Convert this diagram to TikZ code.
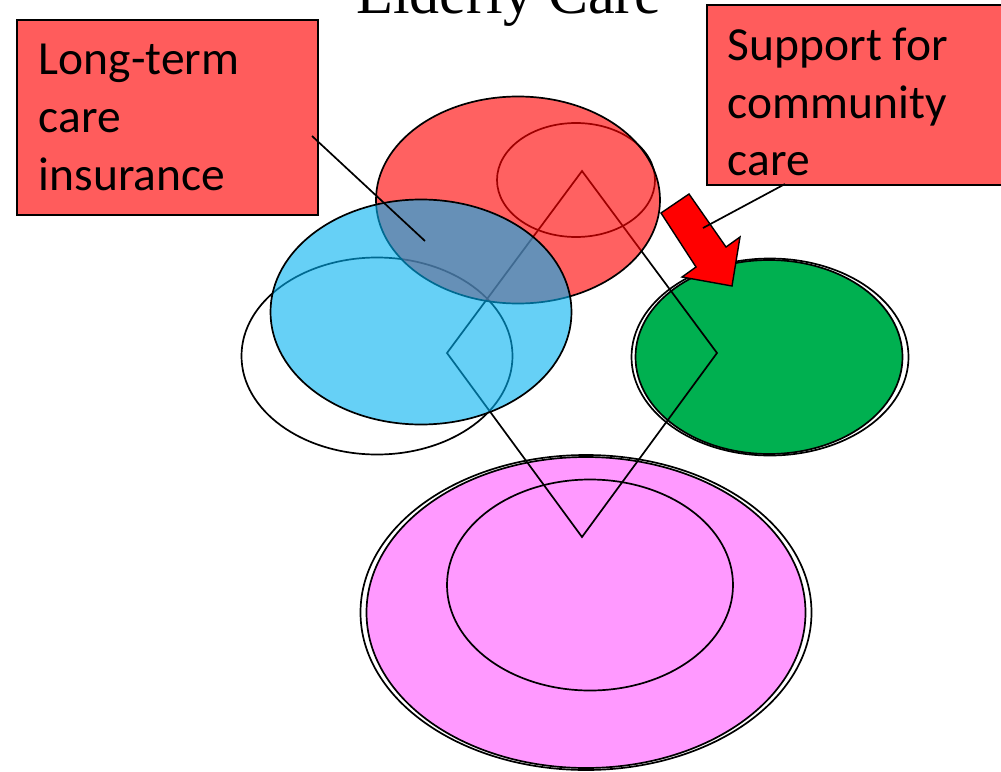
\documentclass[tikz,border=0pt]{standalone}
\usepackage{fontspec}
\setmainfont{Liberation Serif}
\newfontfamily\calib{Carlito}
\usetikzlibrary{shapes.geometric}
\definecolor{boxred}{RGB}{255,92,92}
\definecolor{ored}{RGB}{255,0,0}
\definecolor{oblue}{RGB}{0,176,240}
\definecolor{ogreen}{RGB}{0,176,80}
\definecolor{opink}{RGB}{255,153,255}
\begin{document}
\begin{tikzpicture}[x=1pt,y=-1pt,line width=1.7pt,
  ell/.style={ellipse,draw=black,inner sep=0pt,outer sep=0pt},
  boxnode/.style={rectangle,draw=black,fill=boxred,line width=1.5pt,inner sep=0pt,anchor=north west},
  lbl/.style={anchor=base west,inner sep=0pt,font=\calib\fontsize{47.5}{56}\selectfont},
  conn/.style={draw=black,line width=1.7pt},
  blockarrow/.style={fill=ored,draw=black,line width=1.4pt,line join=miter}]
\useasboundingbox (0,0) rectangle (1001,771);

% pink group
\node[ell,fill=opink,minimum width=439pt,minimum height=311pt] (pink) at (586,612.5) {};
\node[ell,minimum width=451pt,minimum height=315pt] (pinkout) at (586,612.5) {};
\node[ell,minimum width=286pt,minimum height=211pt] (pinkin) at (590,585) {};

% green group
\node[ell,fill=ogreen,minimum width=267pt,minimum height=194pt] (green) at (769,357) {};
\node[ell,minimum width=277pt,minimum height=197pt] (greenout) at (770,357) {};

% open ellipses
\node[ell,minimum width=271pt,minimum height=197pt] (leftopen) at (377,356) {};
\node[ell,minimum width=158pt,minimum height=114pt] (topin) at (576,180) {};

% diamond
\coordinate (d1) at (582,171);
\coordinate (d2) at (717,353);
\coordinate (d3) at (582,537);
\coordinate (d4) at (447,353);
\draw[line join=miter] (d1) -- (d2) -- (d3) -- (d4) -- cycle;

% translucent red and blue
\node[ell,fill=ored,fill opacity=0.62,minimum width=284pt,minimum height=207pt] (redell) at (518,200) {};
\node[ell,fill=oblue,fill opacity=0.6,minimum width=301pt,minimum height=225pt] (blueell) at (421,312) {};

% block arrow
\coordinate (a1) at (661,213);
\coordinate (a2) at (689,194);
\coordinate (a3) at (726,247);
\coordinate (a4) at (740,237);
\coordinate (a5) at (732,286);
\coordinate (a6) at (682,277);
\coordinate (a7) at (696,267);
\draw[blockarrow] (a1) -- (a2) -- (a3) -- (a4) -- (a5) -- (a6) -- (a7) -- cycle;

% boxes
\node[boxnode,minimum width=301pt,minimum height=195pt] (ltc) at (16,19) {};
\node[lbl] (ltc1) at (38,74) {Long-term};
\node[lbl] (ltc2) at (38,132) {care};
\node[lbl] (ltc3) at (38,190) {insurance};

\node[boxnode,minimum width=300pt,minimum height=180pt] (scc) at (706,4) {};
\node[lbl] (scc1) at (727,60) {Support for};
\node[lbl] (scc2) at (727,118) {community};
\node[lbl] (scc3) at (727,175) {care};

% connectors
\coordinate (c1) at (312,136);
\coordinate (c2) at (425,241);
\draw[conn] (c1) -- (c2);
\coordinate (c3) at (785,184);
\coordinate (c4) at (703,228);
\draw[conn] (c3) -- (c4);

% title
\node[anchor=base,inner sep=0pt,font=\fontsize{60}{70}\selectfont] (title) at (509,13) {Elderly Care};
\end{tikzpicture}
\end{document}
